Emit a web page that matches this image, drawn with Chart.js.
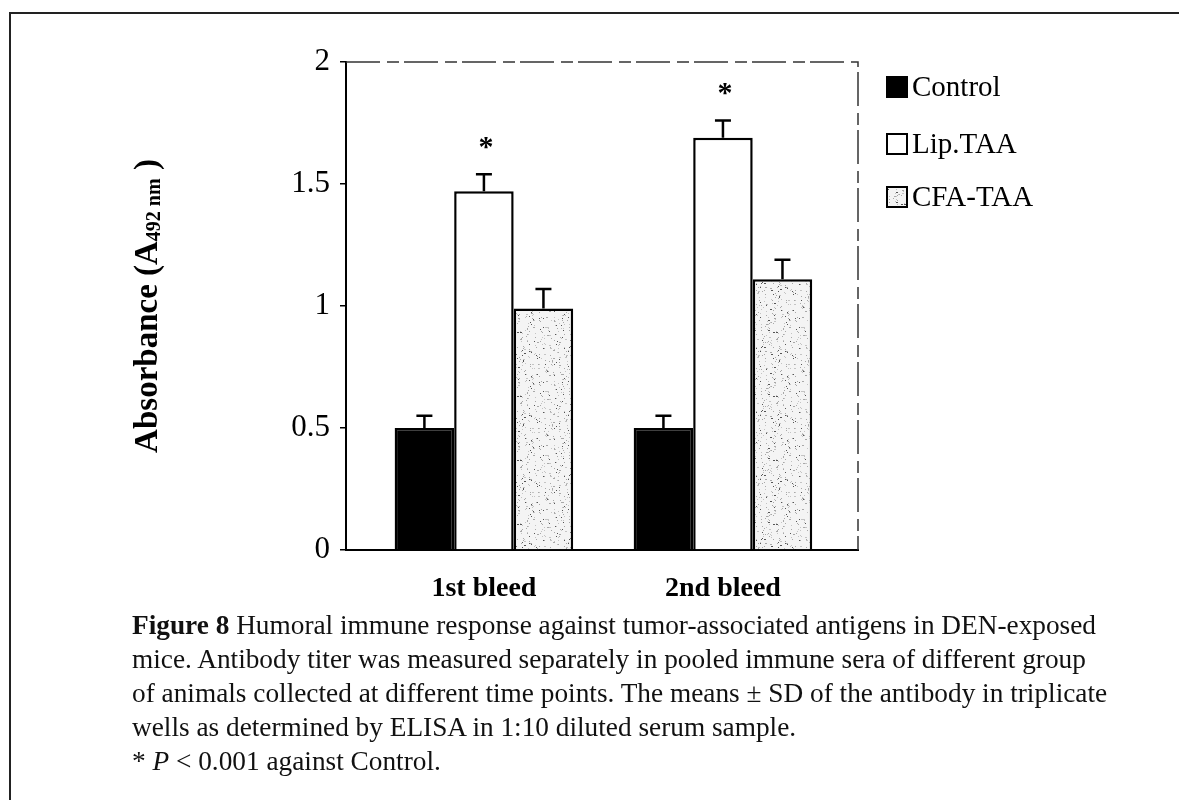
<!DOCTYPE html>
<html>
<head>
<meta charset="utf-8">
<script src="https://cdn.jsdelivr.net/npm/chart.js@4.4.1/dist/chart.umd.min.js"></script>
<style>
    body { margin: 0; background: #fff; width: 1179px; height: 800px; overflow: hidden; position: relative; }
    #frame { position: absolute; left: 9px; top: 12px; right: 0; bottom: 0; border-left: 2px solid #222; border-top: 2px solid #222; }
    #wrap { position: absolute; left: 0; top: 0; width: 1179px; height: 620px; }
    #caption {
        position: absolute; left: 132px; top: 608px; width: 1040px;
        font-family: "Liberation Serif", serif; font-size: 27.3px; line-height: 34px; color: #111;
        white-space: nowrap;
    }
</style>
</head>
<body>
<div id="frame"></div>
<div id="wrap"><canvas id="absChart"></canvas></div>
<div id="caption">
    <b>Figure 8</b> Humoral immune response against tumor-associated antigens in DEN-exposed<br>
    mice. Antibody titer was measured separately in pooled immune sera of different group<br>
    of animals collected at different time points. The means ± SD of the antibody in triplicate<br>
    wells as determined by ELISA in 1:10 diluted serum sample.<br>
    * <i>P</i> &lt; 0.001 against Control.
</div>
<script>
const categories = ['1st bleed', '2nd bleed'];
const seriesNames = ['Control', 'Lip.TAA', 'CFA-TAA'];
const controlValues = [0.50, 0.50];
const controlSd = [0.05, 0.05];
const lipValues = [1.47, 1.69];
const lipSd = [0.07, 0.07];
const cfaValues = [0.99, 1.11];
const cfaSd = [0.08, 0.08];
const lipMarks = ['*', '*'];
const yTicks = [0, 0.5, 1, 1.5, 2];

const serif = '"Liberation Serif", "Times New Roman", serif';

// speckled grey fill like the scanned stipple
function makeSpeckle() {
    const c = document.createElement('canvas');
    c.width = 64; c.height = 64;
    const g = c.getContext('2d');
    g.fillStyle = '#f4f4f4';
    g.fillRect(0, 0, 64, 64);
    for (let i = 0; i < 300; i++) {
        const x = (i * 53 + (i * i) % 17) % 64;
        const y = (i * 29 + (i * i * 7) % 23) % 64;
        g.fillStyle = i % 5 === 0 ? '#555' : (i % 2 ? '#a8a8a8' : '#c4c4c4');
        g.fillRect(x, y, i % 7 === 0 ? 2 : 1, 1);
    }
    return g.createPattern(c, 'repeat');
}

const toPoints = (vals) => vals.map((v, i) => ({ x: i, y: v }));

const errorBars = {
    id: 'errorBars',
    afterDatasetsDraw(chart) {
        const ctx = chart.ctx;
        const yScale = chart.scales.y;
        ctx.save();
        ctx.strokeStyle = '#000';
        ctx.lineWidth = 2.5;
        chart.data.datasets.forEach((ds, di) => {
            const meta = chart.getDatasetMeta(di);
            meta.data.forEach((bar, i) => {
                const top = yScale.getPixelForValue(ds.data[i].y + ds.sd[i]);
                ctx.beginPath();
                ctx.moveTo(bar.x, bar.y);
                ctx.lineTo(bar.x, top);
                ctx.moveTo(bar.x - 8, top);
                ctx.lineTo(bar.x + 8, top);
                ctx.stroke();
                if (ds.marks && ds.marks[i]) {
                    ctx.fillStyle = '#000';
                    ctx.font = 'bold 30px ' + serif;
                    ctx.textAlign = 'center';
                    ctx.textBaseline = 'middle';
                    ctx.fillText(ds.marks[i], bar.x + 2, top - 26);
                }
            });
        });
        ctx.restore();
    }
};

const plotExtras = {
    id: 'plotExtras',
    afterDraw(chart) {
        const ctx = chart.ctx;
        const a = chart.chartArea;
        ctx.save();
        // broken top and right frame
        ctx.strokeStyle = '#333';
        ctx.lineWidth = 1.5;
        ctx.setLineDash([34, 7, 12, 5]);
        ctx.beginPath();
        ctx.moveTo(a.left, a.top);
        ctx.lineTo(a.right, a.top);
        ctx.lineTo(a.right, a.bottom);
        ctx.stroke();
        ctx.setLineDash([]);

        // legend
        const rows = [87, 144, 197];
        chart.data.datasets.forEach((ds, i) => {
            const bx = a.right + 29, by = rows[i] - 10;
            ctx.fillStyle = ds.backgroundColor;
            ctx.fillRect(bx, by, 20, 20);
            ctx.strokeStyle = '#000';
            ctx.lineWidth = 2;
            ctx.strokeRect(bx, by, 20, 20);
            ctx.fillStyle = '#000';
            ctx.font = '29px ' + serif;
            ctx.textAlign = 'left';
            ctx.textBaseline = 'middle';
            ctx.fillText(ds.label, bx + 25, rows[i] + 1);
        });

        // y axis title with subscript
        const big = 'bold 33px ' + serif, small = 'bold 20px ' + serif;
        const p1 = 'Absorbance (A', p2 = '492 nm', p3 = ' )';
        ctx.font = big; const w1 = ctx.measureText(p1).width, w3 = ctx.measureText(p3).width;
        ctx.font = small; const w2 = ctx.measureText(p2).width;
        const total = w1 + w2 + w3;
        ctx.translate(148, 306);
        ctx.rotate(-Math.PI / 2);
        ctx.fillStyle = '#000';
        ctx.textBaseline = 'middle';
        ctx.textAlign = 'left';
        let x = -total / 2;
        ctx.font = big; ctx.fillText(p1, x, 0); x += w1;
        ctx.font = small; ctx.fillText(p2, x, 7); x += w2;
        ctx.font = big; ctx.fillText(p3, x, 0);
        ctx.restore();
    }
};

const speckle = makeSpeckle();

new Chart(document.getElementById('absChart'), {
    type: 'bar',
    data: {
        datasets: [
            { label: seriesNames[0], data: toPoints(controlValues), sd: controlSd, backgroundColor: '#000' },
            { label: seriesNames[1], data: toPoints(lipValues), sd: lipSd, marks: lipMarks, backgroundColor: '#fff' },
            { label: seriesNames[2], data: toPoints(cfaValues), sd: cfaSd, backgroundColor: speckle }
        ].map(d => Object.assign(d, {
            borderColor: '#000', borderWidth: 2.5, borderSkipped: 'bottom',
            categoryPercentage: 0.747, barPercentage: 1.0
        }))
    },
    options: {
        responsive: true,
        maintainAspectRatio: false,
        animation: false,
        layout: { padding: { left: 0, right: 321, top: 62, bottom: 10 } },
        plugins: { legend: { display: false }, tooltip: { enabled: false } },
        scales: {
            x: {
                type: 'linear',
                offset: false,
                min: -0.577,
                max: 1.565,
                afterBuildTicks: (s) => { s.ticks = categories.map((c, i) => ({ value: i })); },
                afterFit: (s) => { s.height = 60; },
                grid: { display: false },
                border: { display: true, color: '#000', width: 2 },
                ticks: {
                    callback: (v) => categories[v],
                    color: '#000',
                    padding: 14,
                    font: { family: serif, size: 28, weight: 'bold' }
                }
            },
            y: {
                min: 0,
                max: 2,
                afterBuildTicks: (s) => { s.ticks = yTicks.map(v => ({ value: v })); },
                afterFit: (s) => { s.width = 346; },
                grid: { drawOnChartArea: false, drawTicks: true, tickLength: 6, color: '#000', lineWidth: 1.5 },
                border: { display: true, color: '#000', width: 2 },
                ticks: {
                    callback: (v) => String(v),
                    color: '#000',
                    padding: 10,
                    font: { family: serif, size: 31 }
                }
            }
        }
    },
    plugins: [errorBars, plotExtras]
});
</script>
</body>
</html>
